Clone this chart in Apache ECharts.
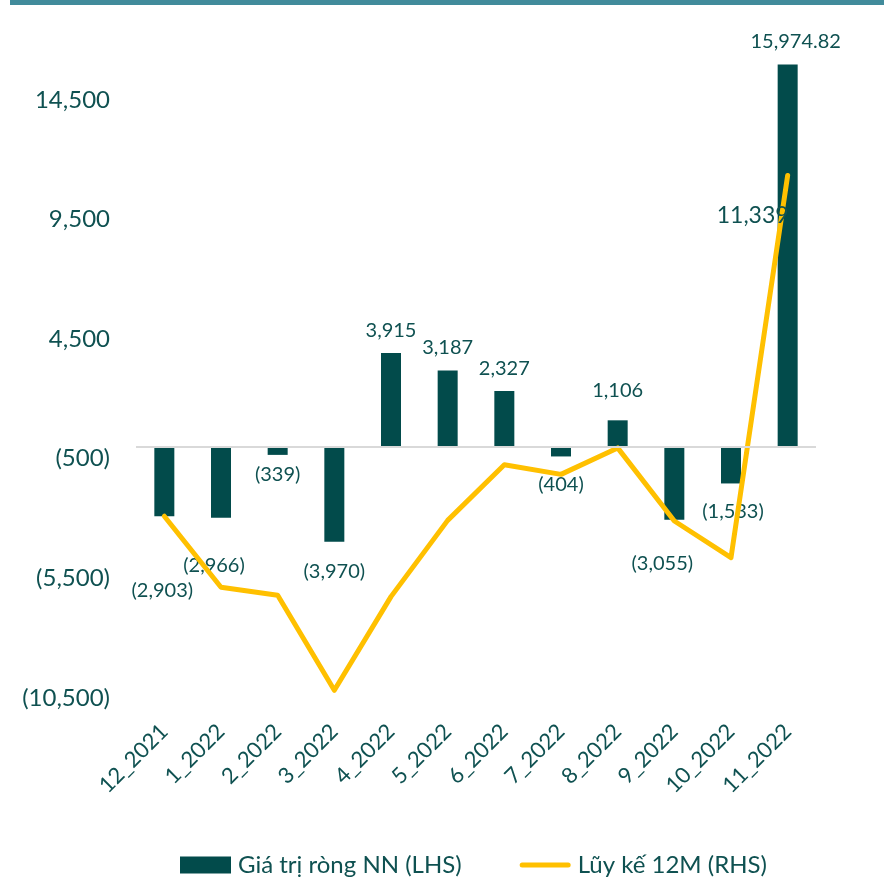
<!DOCTYPE html>
<html>
<head>
<meta charset="utf-8">
<script src="https://cdn.jsdelivr.net/npm/echarts@6/dist/echarts.min.js"></script>
<style>
  html, body { margin: 0; padding: 0; background: #fff; }
  #chart { width: 884px; height: 894px; }
</style>
</head>
<body>
<div id="chart"></div>
<script>
// months on the x axis
var months = ['12_2021', '1_2022', '2_2022', '3_2022', '4_2022', '5_2022',
  '6_2022', '7_2022', '8_2022', '9_2022', '10_2022', '11_2022']
// net foreign value (LHS)
var netValue = [-2903, -2966, -339, -3970, 3915, 3187, 2327, -404, 1106, -3055, -1533, 15974.82]
// 12M cumulative (RHS)
var cumulative = [-2903, -5869, -6208, -10178, -6263, -3076, -749, -1153, -47, -3102, -4635, 11339]
var seriesNames = ['Giá trị ròng NN (LHS)', 'Lũy kế 12M (RHS)']

// label nudges for the bar labels (px), moved by hand in the original
var labelNudge = [[-2, 46], [-7, 20], [0, -8], [0, 2], [0, 0], [0, 0],
  [0, 0], [0, 0], [0, -7], [-12, 16], [2, 0], [8, 0]]

var teal = '#024b4b'
var textColor = '#0f5151'
var font = 'Lato'

function fmt(v) {
  var s = Math.abs(v).toLocaleString('en-US', { maximumFractionDigits: 2 })
  return v < 0 ? '(' + s + ')' : s
}

var barData = netValue.map(function (v, i) {
  return {
    value: v,
    label: {
      position: v < 0 ? 'bottom' : 'top',
      distance: v < 0 ? 18 : 13,
      offset: labelNudge[i]
    }
  }
})

// only the last point of the line carries a label
var lineData = cumulative.map(function (v, i) {
  if (i !== cumulative.length - 1) return v
  return {
    value: v,
    label: {
      show: true,
      position: 'inside',
      offset: [-35, 40],
      fontSize: 23,
      fontFamily: font,
      color: textColor,
      formatter: function (p) { return fmt(p.value) }
    }
  }
})

var chart = echarts.init(document.getElementById('chart'))
chart.setOption({
  animation: false,
  textStyle: { fontFamily: font },
  graphic: [{
    type: 'rect',
    shape: { x: 10, y: 0, width: 874, height: 5 },
    style: { fill: '#418b9b' }
  }],
  grid: { left: 136, right: 68, top: 52, bottom: 196 },
  legend: {
    bottom: 12,
    left: 175,
    itemWidth: 51,
    itemHeight: 17,
    itemGap: 58,
    textStyle: { fontSize: 24, color: textColor, fontFamily: font, padding: [0, 0, 0, 2] },
    data: [
      { name: seriesNames[0], icon: 'rect' },
      { name: seriesNames[1], icon: 'path://M2.5,0 L48.5,0 A2.5,2.5 0 0 1 48.5,5 L2.5,5 A2.5,2.5 0 0 1 2.5,0 Z' }
    ]
  },
  xAxis: {
    type: 'category',
    data: months,
    axisLine: { show: false },
    axisTick: { show: false },
    axisLabel: {
      rotate: 45,
      margin: 30,
      fontSize: 22,
      color: textColor,
      fontFamily: font,
      interval: 0
    }
  },
  yAxis: [{
    type: 'value',
    min: -10500,
    max: 16500,
    interval: 5000,
    splitLine: { show: false },
    axisLine: { show: false },
    axisTick: { show: false },
    axisLabel: {
      showMaxLabel: false,
      margin: 26,
      fontSize: 24,
      color: textColor,
      fontFamily: font,
      formatter: fmt
    }
  }, {
    type: 'value',
    min: -10500,
    max: 16500,
    show: false
  }],
  series: [{
    name: seriesNames[0],
    type: 'bar',
    data: barData,
    barWidth: 20,
    itemStyle: { color: teal },
    label: {
      show: true,
      fontSize: 20,
      color: textColor,
      fontFamily: font,
      formatter: function (p) { return fmt(p.value) }
    },
    markLine: {
      silent: true,
      symbol: 'none',
      label: { show: false },
      lineStyle: { color: '#d9d9d9', width: 2, type: 'solid' },
      data: [{ yAxis: 0 }]
    },
    z: 2
  }, {
    name: seriesNames[1],
    type: 'line',
    yAxisIndex: 1,
    data: lineData,
    symbol: 'circle',
    symbolSize: 1,
    showSymbol: true,
    lineStyle: { color: '#ffc000', width: 5, cap: 'round', join: 'round' },
    itemStyle: { color: '#ffc000' },
    z: 3
  }]
})
</script>
</body>
</html>
